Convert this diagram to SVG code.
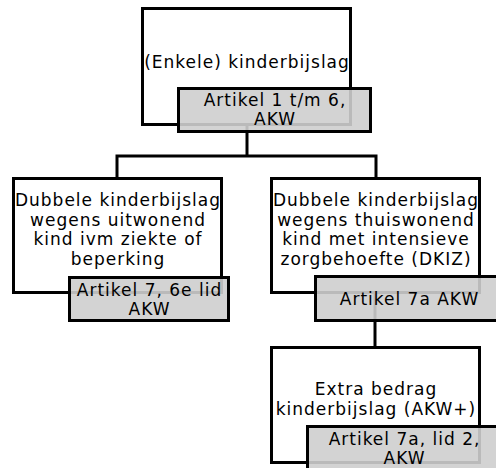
<svg xmlns="http://www.w3.org/2000/svg" width="496" height="468" viewBox="0 0 496 468">
<style>
.box{fill:#ffffff;stroke:#000000;stroke-width:3}
.ref{fill:#cecece;fill-opacity:0.9;stroke:#000000;stroke-width:3}
.conn{fill:none;stroke:#000000;stroke-width:3}
text{font-family:"DejaVu Sans",sans-serif;font-size:17px;letter-spacing:1px;fill:#000000;text-anchor:middle}
</style>
<rect width="496" height="468" fill="#ffffff"/>
<g id="connectors">
<path class="conn" d="M247,125 V156"/>
<path class="conn" d="M117,178 V156 H376 V178"/>
<path class="conn" d="M375,293 V347"/>
</g>
<g id="node-enkele">
<rect class="box" x="142.5" y="8.5" width="208" height="116"/>
<text x="247" y="68">(Enkele) kinderbijslag</text>
</g>
<g id="node-uitwonend">
<rect class="box" x="13.5" y="178.5" width="208" height="114"/>
<text x="118" y="206">Dubbele kinderbijslag</text>
<text x="118" y="225.5">wegens uitwonend</text>
<text x="118" y="245">kind ivm ziekte of</text>
<text x="118" y="264.5">beperking</text>
</g>
<g id="node-dkiz">
<rect class="box" x="271.5" y="178.5" width="208" height="114"/>
<text x="376" y="206">Dubbele kinderbijslag</text>
<text x="376" y="225.5">wegens thuiswonend</text>
<text x="376" y="245">kind met intensieve</text>
<text x="376" y="264.5">zorgbehoefte (DKIZ)</text>
</g>
<g id="node-akwplus">
<rect class="box" x="271.5" y="347.5" width="208" height="115"/>
<text x="376" y="395">Extra bedrag</text>
<text x="376" y="415">kinderbijslag (AKW+)</text>
</g>
<g id="ref-enkele">
<rect class="ref" x="178.5" y="88.5" width="192" height="43"/>
<text x="275" y="106">Artikel 1 t/m 6,</text>
<text x="275" y="125">AKW</text>
</g>
<g id="ref-uitwonend">
<rect class="ref" x="69.5" y="277.5" width="159" height="43"/>
<text x="149.5" y="296">Artikel 7, 6e lid</text>
<text x="149.5" y="315">AKW</text>
</g>
<g id="ref-dkiz">
<rect class="ref" x="315.5" y="276.5" width="188" height="44"/>
<text x="409.5" y="305">Artikel 7a AKW</text>
</g>
<g id="ref-akwplus">
<rect class="ref" x="307.5" y="426.5" width="193" height="45"/>
<text x="404.5" y="445">Artikel 7a, lid 2,</text>
<text x="404.5" y="464">AKW</text>
</g>
</svg>
